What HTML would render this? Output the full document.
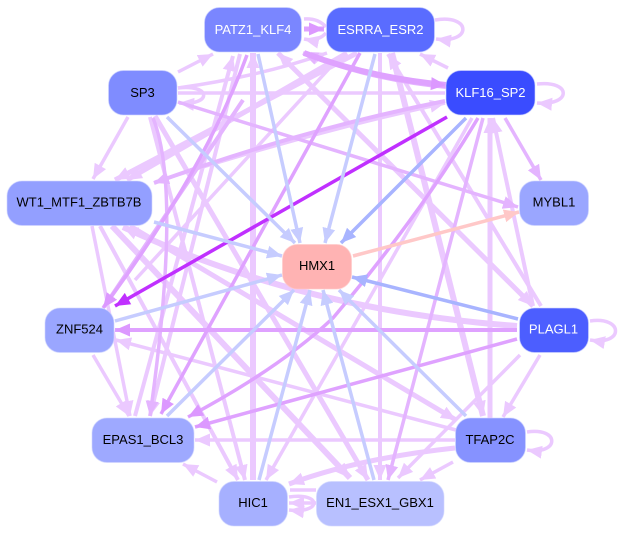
<!DOCTYPE html>
<html><head><meta charset="utf-8"><style>
html,body{margin:0;padding:0;background:#fff}
svg{display:block}
text{font-family:"Liberation Sans",sans-serif;font-size:13px;text-anchor:middle}
.l{stroke:#ebc9ff;fill:none}
.m{stroke:#e4b4ff;fill:none}
.d{stroke:#dfa2ff;fill:none}
.b{stroke:#c6ccff;fill:none}
.n{stroke:#d0d6ff;stroke-width:1;stroke-opacity:.6}
</style></head><body>
<svg width="619" height="533" viewBox="0 0 619 533" xmlns="http://www.w3.org/2000/svg">
<defs>
<marker id="al" markerUnits="userSpaceOnUse" markerWidth="17" markerHeight="15" refX="15" refY="7" orient="auto"><path d="M0,0.500L15,7L0,13.500z" fill="#ebc9ff"/></marker>
<marker id="am" markerUnits="userSpaceOnUse" markerWidth="17" markerHeight="15" refX="15" refY="7" orient="auto"><path d="M0,0.500L15,7L0,13.500z" fill="#e4b4ff"/></marker>
<marker id="ad" markerUnits="userSpaceOnUse" markerWidth="17" markerHeight="15" refX="15" refY="7" orient="auto"><path d="M0,0.500L15,7L0,13.500z" fill="#dc98ff"/></marker>
<marker id="ab" markerUnits="userSpaceOnUse" markerWidth="17" markerHeight="15" refX="15" refY="7" orient="auto"><path d="M0,0.500L15,7L0,13.500z" fill="#c6ccff"/></marker>
<marker id="ab2" markerUnits="userSpaceOnUse" markerWidth="17" markerHeight="15" refX="15" refY="7" orient="auto"><path d="M0,0.500L15,7L0,13.500z" fill="#a8b4ff"/></marker>
<marker id="ap" markerUnits="userSpaceOnUse" markerWidth="17" markerHeight="15" refX="15" refY="7" orient="auto"><path d="M0,0.500L15,7L0,13.500z" fill="#ffc8c8"/></marker>
<marker id="av" markerUnits="userSpaceOnUse" markerWidth="17" markerHeight="15" refX="15" refY="7" orient="auto"><path d="M0,0.500L15,7L0,13.500z" fill="#c030ff"/></marker>
</defs>

<!-- self loops -->
<g class="l" stroke-width="3.5">
<path class="l" d="M435,20C472,14 472,44 436,39" marker-end="url(#al)"/>
<path class="l" d="M537,84C572,80 572,106 537,103" marker-end="url(#al)"/>
<path class="l" d="M178,88C212,84 212,106 179,103" marker-end="url(#al)"/>
<path class="l" d="M590,321C624,316 624,346 590,340" marker-end="url(#al)"/>
<path class="l" d="M527,432C560,427 560,455 527,450" marker-end="url(#al)"/>
<path class="l" d="M289,497C322,492 322,514 289,510" marker-end="url(#al)"/>
</g>

<!-- light edges -->
<g stroke-width="3.5">
<path class="l" d="M326,27Q318,18 304,19"/>
<path class="l" d="M326,33Q318,42 304,39" marker-end="url(#al)"/>
<line class="l" x1="448" y1="68" x2="420" y2="54" marker-end="url(#al)"/>
<line class="l" x1="178" y1="72" x2="213" y2="54" marker-end="url(#al)"/>
<path class="l" d="M178,88Q262,76 327,53" marker-end="url(#al)"/>
<line class="l" x1="178" y1="93" x2="445" y2="93"/>
<line class="l" x1="128" y1="117" x2="93" y2="179" marker-end="url(#al)"/>
<line class="l" stroke-width="6" x1="253" y1="480" x2="253" y2="53" marker-end="url(#al)"/>
<line class="l" stroke-width="4" x1="240" y1="54" x2="150" y2="416" marker-end="url(#al)"/>
<line class="l" stroke-width="4" x1="135" y1="416" x2="233" y2="56" marker-end="url(#al)"/>
<line class="l" stroke-width="5" x1="533" y1="306" x2="278" y2="53" marker-end="url(#al)"/>
<line class="l" stroke-width="4" x1="278" y1="53" x2="533" y2="306" marker-end="url(#al)"/>
<line class="l" stroke-width="5" x1="357" y1="53" x2="115" y2="180" marker-end="url(#al)"/>
<line class="l" stroke-width="5" x1="347" y1="53" x2="127" y2="180" marker-end="url(#al)"/>
<path class="l" d="M155,182Q300,135 445,103" marker-end="url(#al)"/>
<line class="l" stroke-width="4" x1="380" y1="53" x2="380" y2="480" marker-end="url(#al)"/>
<line class="l" stroke-width="6" x1="392" y1="53" x2="483" y2="416" marker-end="url(#al)"/>
<line class="l" stroke-width="4" x1="541" y1="306" x2="388" y2="54" marker-end="url(#al)"/>
<line class="l" stroke-width="5" x1="490" y1="418" x2="490" y2="118" marker-end="url(#al)"/>
<line class="l" stroke-width="4" x1="533" y1="306" x2="493" y2="118" marker-end="url(#al)"/>
<line class="l" stroke-width="5" x1="155" y1="116" x2="368" y2="480" marker-end="url(#al)"/>
<line class="l" stroke-width="4" x1="150" y1="117" x2="245" y2="480" marker-end="url(#al)"/>
<line class="l" stroke-width="3.5" x1="92" y1="226" x2="130" y2="416" marker-end="url(#al)"/>
<line class="l" stroke-width="4" x1="100" y1="226" x2="238" y2="480" marker-end="url(#al)"/>
<line class="l" stroke-width="6" x1="112" y1="226" x2="350" y2="478" marker-end="url(#al)"/>
<line class="l" stroke-width="5" x1="130" y1="226" x2="456" y2="420" marker-end="url(#al)"/>
<path class="l" stroke-width="6" d="M517,326Q300,310 123,227" marker-end="url(#al)"/>
<line class="l" x1="93" y1="355" x2="129" y2="416" marker-end="url(#al)"/>
<line class="l" stroke-width="3.5" x1="456" y1="430" x2="116" y2="340" marker-end="url(#al)"/>
<line class="l" stroke-width="3.5" x1="455" y1="440" x2="195" y2="440" marker-end="url(#al)"/>
<line class="l" x1="217" y1="482" x2="183" y2="464" marker-end="url(#al)"/>
<line class="l" x1="520" y1="355" x2="398" y2="478" marker-end="url(#al)"/>
<line class="l" x1="540" y1="355" x2="503" y2="417" marker-end="url(#al)"/>
<line class="l" x1="453" y1="462" x2="420" y2="480" marker-end="url(#al)"/>
<path class="l" stroke-width="5" d="M455,448Q360,458 289,484" marker-end="url(#al)"/>
<line class="l" x1="472" y1="118" x2="266" y2="480" marker-end="url(#al)"/>
<line class="l" stroke-width="3.5" x1="135" y1="280" x2="337" y2="60"/>
<line class="l" x1="290" y1="490" x2="316" y2="490"/>
<line class="l" x1="316" y1="503" x2="289" y2="503" marker-end="url(#al)"/>
<line class="m" x1="505" y1="118" x2="541" y2="180" marker-end="url(#am)"/>
<line class="m" stroke-width="3.5" x1="178" y1="102" x2="518" y2="207" marker-end="url(#am)"/>
<line class="m" stroke-width="3.5" x1="483" y1="118" x2="388" y2="480" marker-end="url(#am)"/>
<path class="m" stroke-width="3.5" d="M153,118Q182,190 150,416" marker-end="url(#am)"/>
<path class="m" stroke-width="4" d="M445,101Q300,130 154,183" marker-end="url(#am)"/>
<path class="m" stroke-width="4" d="M446,87Q370,80 303,53" marker-end="url(#am)"/>
<line class="m" stroke-width="4" x1="104" y1="307" x2="243" y2="100"/>
<path class="d" stroke-width="6" d="M304,53Q370,78 446,85" marker-end="url(#ad)"/>
<path class="d" stroke-width="3.5" d="M247,55Q205,170 103,308" marker-end="url(#ad)"/>
<line class="d" stroke-width="3.5" x1="360" y1="53" x2="161" y2="414" marker-end="url(#ad)"/>
<path class="d" stroke-width="3.5" d="M478,118Q420,215 333,318Q280,368 188,417" marker-end="url(#ad)"/>
<line class="d" stroke-width="3.5" x1="517" y1="339" x2="195" y2="427" marker-end="url(#ad)"/>
<line class="d" stroke-width="4" x1="517" y1="330" x2="115" y2="330" marker-end="url(#ad)"/>
<line class="d" stroke-width="5" x1="304" y1="29" x2="324" y2="29" marker-end="url(#ad)"/>
<line x1="447" y1="117" x2="115" y2="306" stroke="#c030ff" stroke-width="3.5" marker-end="url(#av)"/>
</g>

<!-- edges to and from HMX1 -->
<g stroke-width="3.5">
<line class="b" x1="258" y1="54" x2="300" y2="243" marker-end="url(#ab)"/>
<line class="b" x1="375" y1="54" x2="325" y2="243" marker-end="url(#ab)"/>
<line x1="466" y1="118" x2="341" y2="243" stroke="#a8b4ff" marker-end="url(#ab2)"/>
<line class="b" x1="167" y1="117" x2="295" y2="243" marker-end="url(#ab)"/>
<line class="b" x1="154" y1="222" x2="282" y2="256" marker-end="url(#ab)"/>
<line class="b" x1="115" y1="321" x2="282" y2="275" marker-end="url(#ab)"/>
<line class="b" x1="167" y1="416" x2="294" y2="290" marker-end="url(#ab)"/>
<line class="b" x1="259" y1="480" x2="310" y2="290" marker-end="url(#ab)"/>
<line class="b" x1="374" y1="480" x2="323" y2="290" marker-end="url(#ab)"/>
<line class="b" x1="466" y1="416" x2="339" y2="290" marker-end="url(#ab)"/>
<line x1="518" y1="319" x2="352" y2="277" stroke="#a8b4ff" marker-end="url(#ab2)"/>
<line x1="353" y1="256" x2="519" y2="212" stroke="#ffc8c8" marker-end="url(#ap)"/>
</g>

<!-- nodes -->
<g class="n">
<rect x="204.500" y="7.500" width="97" height="44.500" rx="15" fill="#7a86ff"/>
<rect x="326.500" y="7.500" width="108" height="44.500" rx="15" fill="#5a6cff"/>
<rect x="108.500" y="70.500" width="68.500" height="44.500" rx="15" fill="#7f8cff"/>
<rect x="446" y="70.500" width="89" height="44.500" rx="15" fill="#3a4cff"/>
<rect x="7" y="181" width="145" height="44.500" rx="15" fill="#939fff"/>
<rect x="519.500" y="181" width="69" height="44.500" rx="15" fill="#9aa6ff"/>
<rect x="282.500" y="244.500" width="69" height="44.500" rx="15" fill="#ffb3b3" stroke="#ffc8c8"/>
<rect x="45" y="308" width="69" height="44.500" rx="15" fill="#9aa6ff"/>
<rect x="519.500" y="308" width="69" height="44.500" rx="15" fill="#4c5eff"/>
<rect x="92" y="418" width="102" height="44.500" rx="15" fill="#9ea9ff"/>
<rect x="455.500" y="418" width="70" height="44.500" rx="15" fill="#8692ff"/>
<rect x="219" y="481.500" width="68.500" height="44.500" rx="15" fill="#a6b0ff"/>
<rect x="316.500" y="481.500" width="127.500" height="44.500" rx="15" fill="#b8c0ff"/>
</g>
<text x="253" y="34" fill="#fff">PATZ1_KLF4</text>
<text x="380.500" y="34" fill="#fff">ESRRA_ESR2</text>
<text x="142.500" y="97">SP3</text>
<text x="490.500" y="97" fill="#fff">KLF16_SP2</text>
<text x="79" y="206.500">WT1_MTF1_ZBTB7B</text>
<text x="554" y="206.500">MYBL1</text>
<text x="317" y="270">HMX1</text>
<text x="79.500" y="333.500">ZNF524</text>
<text x="553.500" y="333.500" fill="#fff">PLAGL1</text>
<text x="143" y="444">EPAS1_BCL3</text>
<text x="490" y="444">TFAP2C</text>
<text x="253" y="507">HIC1</text>
<text x="380" y="507">EN1_ESX1_GBX1</text>
</svg>
</body></html>
